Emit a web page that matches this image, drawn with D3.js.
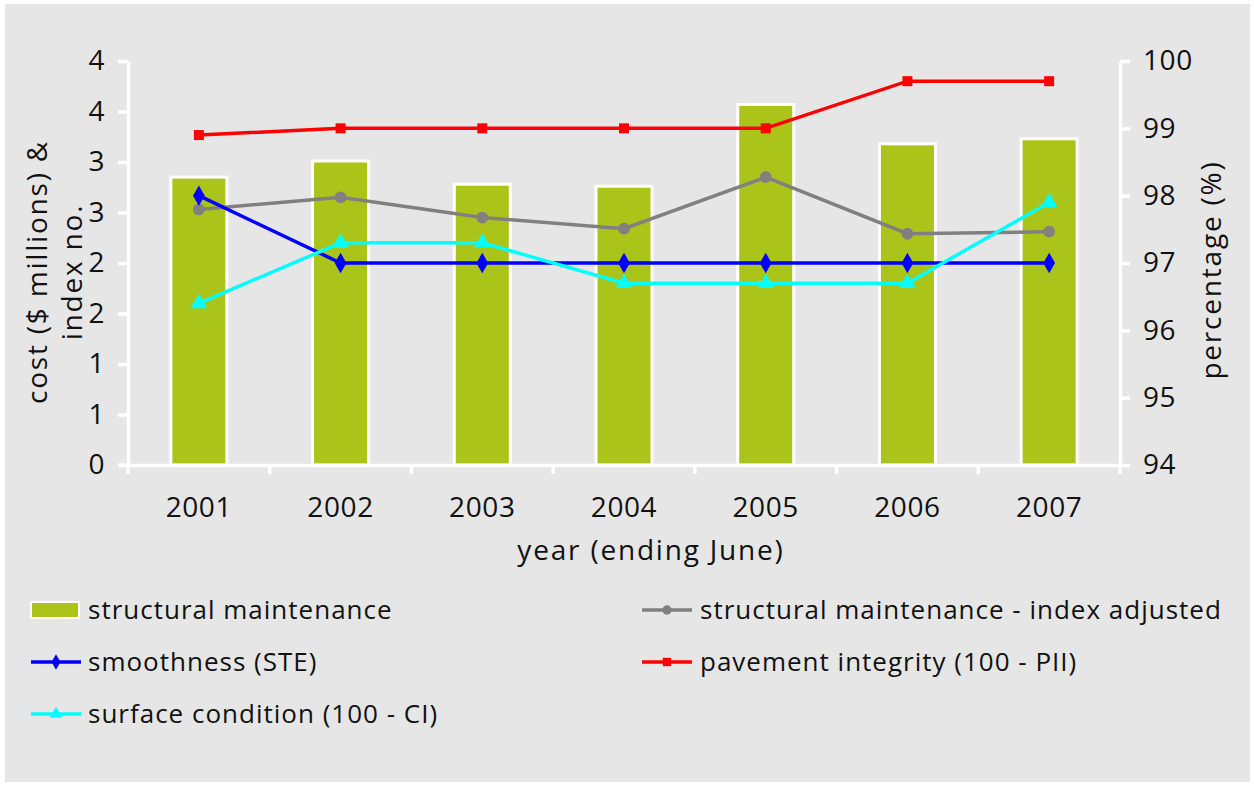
<!DOCTYPE html>
<html lang="en">
<head>
    <meta charset="UTF-8">
    <title>Structural maintenance and road condition</title>
    <script src="https://d3js.org/d3.v7.min.js"></script>
    <style>
        body {
            margin: 0;
            padding: 0;
            background-color: #ffffff;
            font-family: 'Open Sans', sans-serif;
        }
        text {
            fill: #111;
        }
    </style>
</head>
<body>
    <script>
        // Datos
        const years = ["2001", "2002", "2003", "2004", "2005", "2006", "2007"];
        const structuralCost = [2.85, 3.01, 2.78, 2.76, 3.57, 3.18, 3.23];
        const indexAdjusted = [2.53, 2.65, 2.45, 2.34, 2.85, 2.29, 2.31];
        const smoothness = [98.0, 97.0, 97.0, 97.0, 97.0, 97.0, 97.0];
        const pavementIntegrity = [98.9, 99.0, 99.0, 99.0, 99.0, 99.7, 99.7];
        const surfaceCondition = [96.4, 97.3, 97.3, 96.7, 96.7, 96.7, 97.9];
        const leftTicks = [0, 0.5, 1, 1.5, 2, 2.5, 3, 3.5, 4];
        const rightTicks = [94, 95, 96, 97, 98, 99, 100];

        const width = 1254;
        const height = 785;
        const margin = { left: 128, right: 134, top: 61, bottom: 320 };

        const svg = d3.select("body")
            .append("svg")
            .attr("width", width)
            .attr("height", height);

        // Fondo gris
        svg.append("rect")
            .attr("x", 5).attr("y", 4)
            .attr("width", 1245).attr("height", 778)
            .attr("fill", "#e6e6e6");

        const xLine = d3.scaleBand()
            .domain(years)
            .range([margin.left, width - margin.right]);

        const yLeft = d3.scaleLinear()
            .domain([0, 4])
            .range([height - margin.bottom, margin.top]);

        const yRight = d3.scaleLinear()
            .domain([94, 100])
            .range([height - margin.bottom, margin.top]);

        const cx = d => xLine(d) + xLine.bandwidth() / 2;
        const barWidth = 56;

        // Barras
        svg.append("g")
            .selectAll("rect")
            .data(years)
            .enter()
            .append("rect")
            .attr("x", d => cx(d) - barWidth / 2)
            .attr("y", (d, i) => yLeft(structuralCost[i]))
            .attr("width", barWidth)
            .attr("height", (d, i) => yLeft(0) - yLeft(structuralCost[i]))
            .attr("fill", "#abc41a")
            .attr("stroke", "#ffffff")
            .attr("stroke-width", 3);

        // Ejes
        const axisStyle = g => {
            g.select(".domain").attr("stroke", "#fff").attr("stroke-width", 3.5);
            g.selectAll(".tick line").attr("stroke", "#fff").attr("stroke-width", 3.5);
            g.selectAll(".tick text")
                .attr("fill", "#111")
                .style("font-size", "28px")
                .style("letter-spacing", "0.6px")
                .style("font-family", "'Open Sans', sans-serif");
        };

        svg.append("g")
            .attr("transform", `translate(${margin.left},0)`)
            .call(d3.axisLeft(yLeft).tickValues(leftTicks).tickFormat(d3.format(".0f")).tickSize(10).tickSizeOuter(0).tickPadding(13))
            .call(axisStyle);

        svg.append("g")
            .attr("transform", `translate(${width - margin.right},0)`)
            .call(d3.axisRight(yRight).tickValues(rightTicks).tickFormat(d3.format("d")).tickSize(10).tickSizeOuter(0).tickPadding(13))
            .call(axisStyle);

        const xAxis = svg.append("g")
            .attr("transform", `translate(0,${height - margin.bottom})`)
            .call(d3.axisBottom(xLine).tickSize(0).tickPadding(32))
            .call(axisStyle);

        // Marcas del eje x entre categorías
        xAxis.selectAll(".sep")
            .data(d3.range(years.length + 1))
            .enter()
            .append("line")
            .attr("x1", i => margin.left + i * xLine.step())
            .attr("x2", i => margin.left + i * xLine.step())
            .attr("y1", 0).attr("y2", 9)
            .attr("stroke", "#fff").attr("stroke-width", 3.5);
        xAxis.append("line")
            .attr("x1", margin.left - 10).attr("x2", margin.left)
            .attr("y1", 0).attr("y2", 0)
            .attr("stroke", "#fff").attr("stroke-width", 3.5);

        // Series de líneas
        const series = [
            { name: "structural maintenance - index adjusted", values: indexAdjusted, scale: yLeft, color: "#808080", symbol: d3.symbolCircle, size: 110 },
            { name: "smoothness (STE)", values: smoothness, scale: yRight, color: "#0000ff", symbol: d3.symbolDiamond, size: 120 },
            { name: "pavement integrity (100 - PII)", values: pavementIntegrity, scale: yRight, color: "#ff0000", symbol: d3.symbolSquare, size: 100 },
            { name: "surface condition (100 - CI)", values: surfaceCondition, scale: yRight, color: "#00ffff", symbol: d3.symbolTriangle, size: 120 }
        ];

        series.forEach(s => {
            const line = d3.line()
                .x((d, i) => cx(years[i]))
                .y(d => s.scale(d));
            svg.append("path")
                .datum(s.values)
                .attr("d", line)
                .attr("fill", "none")
                .attr("stroke", s.color)
                .attr("stroke-width", 3.5);
            svg.append("g")
                .selectAll("path")
                .data(s.values)
                .enter()
                .append("path")
                .attr("d", d3.symbol().type(s.symbol).size(s.size))
                .attr("transform", (d, i) => `translate(${cx(years[i])},${s.scale(d)})`)
                .attr("fill", s.color);
        });

        // Títulos de ejes
        const titleStyle = t => t
            .attr("text-anchor", "middle")
            .style("font-size", "28px")
            .style("letter-spacing", "1.8px");

        svg.append("text")
            .attr("x", 651)
            .attr("y", 560)
            .call(titleStyle)
            .text("year (ending June)");

        const leftTitle = svg.append("text")
            .attr("transform", "translate(0,272) rotate(-90)")
            .call(titleStyle);
        leftTitle.append("tspan").attr("x", 0).attr("y", 47).text("cost ($ millions) &");
        leftTitle.append("tspan").attr("x", 0).attr("y", 82).text("index no.");

        svg.append("text")
            .attr("transform", "translate(1221,270) rotate(-90)")
            .call(titleStyle)
            .text("percentage (%)");

        // Leyenda
        const legendItems = [
            { name: "structural maintenance", type: "bar", col: 0, row: 0 },
            { name: series[0].name, type: "line", s: series[0], col: 1, row: 0 },
            { name: series[1].name, type: "line", s: series[1], col: 0, row: 1 },
            { name: series[2].name, type: "line", s: series[2], col: 1, row: 1 },
            { name: series[3].name, type: "line", s: series[3], col: 0, row: 2 }
        ];
        const colX = [31, 642];
        const rowY = [610, 662, 714];

        legendItems.forEach(item => {
            const g = svg.append("g")
                .attr("transform", `translate(${colX[item.col]},${rowY[item.row]})`);
            if (item.type === "bar") {
                g.append("rect")
                    .attr("x", 0).attr("y", -8)
                    .attr("width", 48).attr("height", 16)
                    .attr("fill", "#abc41a")
                    .attr("stroke", "#fff")
                    .attr("stroke-width", 2);
            } else {
                g.append("line")
                    .attr("x1", 0).attr("x2", 50)
                    .attr("y1", 0).attr("y2", 0)
                    .attr("stroke", item.s.color)
                    .attr("stroke-width", 3.5);
                g.append("path")
                    .attr("d", d3.symbol().type(item.s.symbol).size(70))
                    .attr("transform", "translate(25,0)")
                    .attr("fill", item.s.color);
            }
            g.append("text")
                .attr("x", item.col === 0 ? 57 : 58)
                .attr("y", 0)
                .attr("dy", "0.36em")
                .style("font-size", "26px")
                .style("letter-spacing", "1px")
                .text(item.name);
        });
    </script>
</body>
</html>
